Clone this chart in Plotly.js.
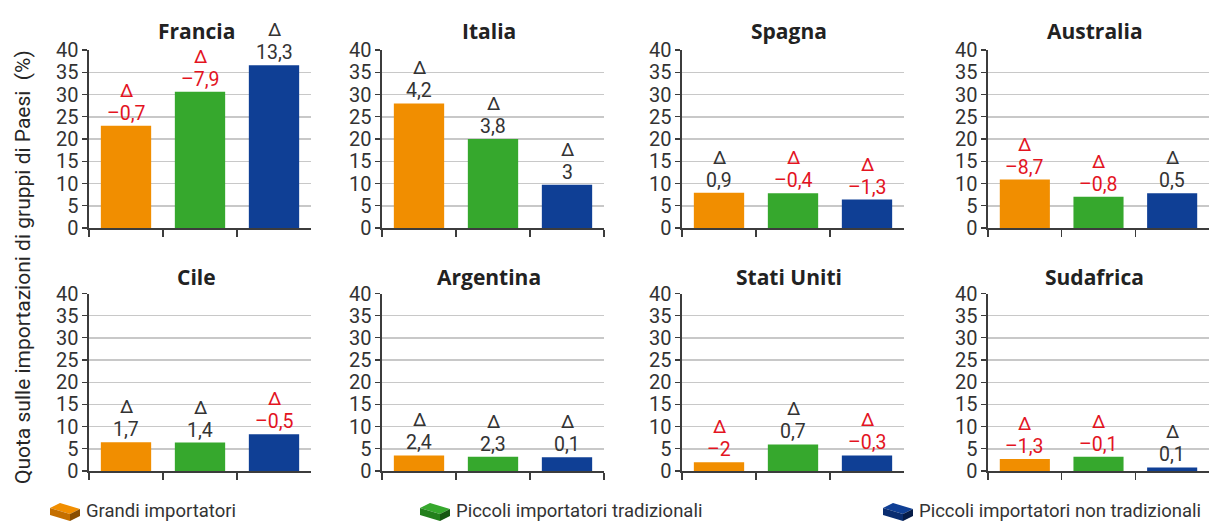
<!DOCTYPE html>
<html>
<head>
<meta charset="utf-8">
<script src="https://cdn.plot.ly/plotly-3.0.1.min.js"></script>
<style>
  html, body { margin: 0; padding: 0; background: #fff; }
  #chart { width: 1209px; height: 522px; }
</style>
</head>
<body>
<div id="chart"></div>
<script>
// Paesi (un pannello ciascuno)
const countries = ['Francia', 'Italia', 'Spagna', 'Australia', 'Cile', 'Argentina', 'Stati Uniti', 'Sudafrica'];

// Gruppi di Paesi importatori
const seriesNames = ['Grandi importatori', 'Piccoli importatori tradizionali', 'Piccoli importatori non tradizionali'];

// Quota sulle importazioni (%) per gruppo, nello stesso ordine dei Paesi
const grandi         = [23.0, 28.0, 7.9, 10.9, 6.5, 3.5, 2.0, 2.7];
const piccoliTrad    = [30.6, 20.0, 7.8,  7.0, 6.4, 3.2, 6.0, 3.2];
const piccoliNonTrad = [36.6,  9.7, 6.4,  7.8, 8.3, 3.1, 3.5, 0.8];

// Variazioni (Δ) indicate sopra le barre
const deltaGrandi         = [-0.7, 4.2,  0.9, -8.7,  1.7, 2.4, -2,   -1.3];
const deltaPiccoliTrad    = [-7.9, 3.8, -0.4, -0.8,  1.4, 2.3,  0.7, -0.1];
const deltaPiccoliNonTrad = [13.3, 3,   -1.3,  0.5, -0.5, 0.1, -0.3,  0.1];

// Tacche dell'asse verticale
const yTicks = [0, 5, 10, 15, 20, 25, 30, 35, 40];

const yTitle = 'Quota sulle importazioni di gruppi di Paesi  (%)';

// ---- aspetto ----
const W = 1209, H = 522;
const colors = ['#f18e00', '#36a82d', '#0f3f95'];
const sideColors = [['#c46f00', '#8a4e00'], ['#23801c', '#165812'], ['#0a2d70', '#061c48']];
const textDark = '#333333';
const textRed = '#e3141f';
const numFont = 'Roboto, "Liberation Sans", sans-serif';
const titleFont = '"Open Sans", Roboto, sans-serif';

const panelLeft = [89, 382, 682, 988];
const panelWidth = 222;
const rows = [
  { top: 50, bottom: 228, title: 31 },
  { top: 293.5, bottom: 471, title: 277 }
];

const px = x => x / W;
const py = y => 1 - y / H;

function fmtDelta(v) {
  const s = String(Math.abs(v)).replace('.', ',');
  return (v < 0 ? '\u2013' : '') + s;
}

const traces = [];
const annotations = [];
const shapes = [];
const layout = {
  width: W, height: H,
  margin: { l: 0, r: 0, t: 0, b: 0 },
  paper_bgcolor: '#ffffff',
  plot_bgcolor: '#ffffff',
  showlegend: false,
  bargap: 0.32,
  hovermode: false,
  font: { family: numFont, color: textDark }
};

const groupValues = [grandi, piccoliTrad, piccoliNonTrad];
const groupDeltas = [deltaGrandi, deltaPiccoliTrad, deltaPiccoliNonTrad];

countries.forEach((country, i) => {
  const k = i + 1;
  const row = rows[Math.floor(i / 4)];
  const left = panelLeft[i % 4];
  const right = Math.min(W, left + panelWidth);
  const xa = 'x' + (k === 1 ? '' : k);
  const ya = 'y' + (k === 1 ? '' : k);

  layout['xaxis' + (k === 1 ? '' : k)] = {
    domain: [px(left), px(right)],
    anchor: ya,
    type: 'category',
    range: [-0.5, 2.5],
    showticklabels: false,
    showgrid: false,
    zeroline: false,
    showline: true,
    linecolor: '#3c3c3c',
    linewidth: 1.6,
    ticks: 'outside',
    tickson: 'boundaries',
    ticklen: 7,
    tickwidth: 1.2,
    tickcolor: '#3c3c3c',
    fixedrange: true
  };
  layout['yaxis' + (k === 1 ? '' : k)] = {
    domain: [py(row.bottom), py(row.top)],
    anchor: xa,
    range: [0, 40],
    tickmode: 'array',
    tickvals: yTicks,
    ticktext: yTicks.map(String),
    tickfont: { family: numFont, size: 20, color: textDark },
    showgrid: true,
    gridcolor: '#c8c8c8',
    gridwidth: 1.5,
    zeroline: false,
    showline: true,
    linecolor: '#3c3c3c',
    linewidth: 1.6,
    ticks: 'outside',
    ticklen: 5,
    tickwidth: 1.2,
    tickcolor: '#3c3c3c',
    fixedrange: true
  };

  const vals = groupValues.map(g => g[i]);
  traces.push({
    type: 'bar',
    x: seriesNames,
    y: vals,
    xaxis: xa,
    yaxis: ya,
    marker: { color: colors, line: { width: 0 } },
    hoverinfo: 'skip'
  });

  // Δ e valore della variazione sopra ogni barra
  seriesNames.forEach((name, j) => {
    const d = groupDeltas[j][i];
    const c = d < 0 ? textRed : textDark;
    annotations.push({
      xref: xa, yref: ya, x: name, y: vals[j],
      yanchor: 'bottom', xanchor: 'center', yshift: 0, borderpad: 0,
      text: fmtDelta(d), showarrow: false,
      font: { family: numFont, size: 19.5, color: c }
    });
    annotations.push({
      xref: xa, yref: ya, x: name, y: vals[j],
      yanchor: 'bottom', xanchor: 'center', yshift: 23, borderpad: 0,
      text: '\u0394', showarrow: false,
      font: { family: numFont, size: 19, color: c }
    });
  });

  // titolo del pannello
  annotations.push({
    xref: 'paper', yref: 'paper',
    x: px((left + right) / 2 - 4), y: py(row.title),
    xanchor: 'center', yanchor: 'middle',
    text: '<b>' + country + '</b>', showarrow: false,
    font: { family: titleFont, size: 21, color: '#222222' }
  });
});

// titolo dell'asse verticale comune
annotations.push({
  xref: 'paper', yref: 'paper',
  x: px(23), y: py(267),
  xanchor: 'center', yanchor: 'middle',
  textangle: -90,
  text: yTitle, showarrow: false,
  font: { family: numFont, size: 21, color: '#262626' }
});

// legenda con icone a mattoncino
const legendIconX = [50, 420, 883];
const legendTextX = [84, 454, 917];
const legendY = 511;
seriesNames.forEach((name, j) => {
  const x0 = legendIconX[j], y0 = legendY - 9;
  const P = pts => 'M' + pts.map(p => px(x0 + p[0]) + ',' + py(y0 + p[1])).join(' L') + ' Z';
  // faccia superiore
  shapes.push({ type: 'path', xref: 'paper', yref: 'paper', layer: 'above',
    path: P([[0, 6], [10, 1], [30, 7], [20, 12]]),
    fillcolor: colors[j], line: { width: 0 } });
  // faccia anteriore
  shapes.push({ type: 'path', xref: 'paper', yref: 'paper', layer: 'above',
    path: P([[0, 6], [20, 12], [20, 19], [0, 13]]),
    fillcolor: sideColors[j][0], line: { width: 0 } });
  // faccia laterale
  shapes.push({ type: 'path', xref: 'paper', yref: 'paper', layer: 'above',
    path: P([[20, 12], [30, 7], [30, 14], [20, 19]]),
    fillcolor: sideColors[j][1], line: { width: 0 } });
  annotations.push({
    xref: 'paper', yref: 'paper',
    x: px(legendTextX[j]), y: py(legendY),
    xanchor: 'left', yanchor: 'middle',
    text: name, showarrow: false,
    font: { family: numFont, size: 18.5, color: textDark }
  });
});

layout.annotations = annotations;
layout.shapes = shapes;

Plotly.newPlot('chart', traces, layout, { staticPlot: true, displayModeBar: false });
</script>
</body>
</html>
